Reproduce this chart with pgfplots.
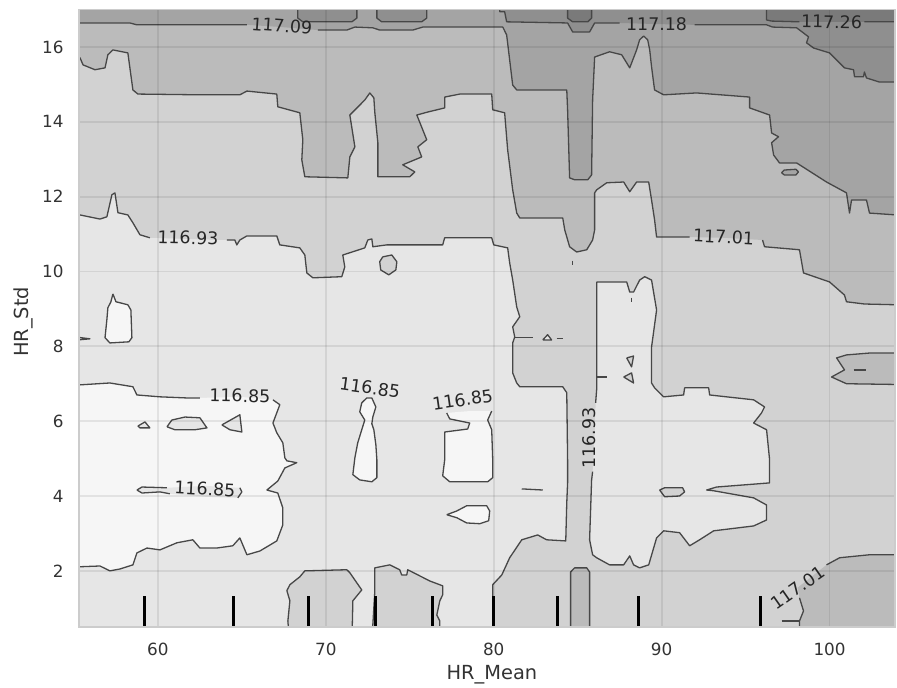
\documentclass[border=0pt]{standalone}
\usepackage{pgfplots}
\pgfplotsset{compat=1.18}
\usepackage{pgfplotstable}
\usepackage{fontspec}
\setmainfont{DejaVu Sans}
\definecolor{cB0}{HTML}{F6F6F6}
\definecolor{cB1}{HTML}{E6E6E6}
\definecolor{cB2}{HTML}{D2D2D2}
\definecolor{cB3}{HTML}{BBBBBB}
\definecolor{cB4}{HTML}{A4A4A4}
\definecolor{cB5}{HTML}{8F8F8F}
\definecolor{cB6}{HTML}{7A7A7A}
\pgfplotsset{
  cl/.style={draw=black!72, line width=0.65pt, line join=round},
}
\tikzset{lab/.style={font=\fontsize{8.7}{10}\selectfont, text=black!85, inner sep=0pt}}
% region 116.93-117.01 (outer boundary = 116.93 contour)
\pgfplotstableread{
x y yl
54.00 11.51 11.51
55.36 11.51 11.51
56.55 11.40 11.40
56.96 11.46 11.46
57.26 12.05 12.05
57.44 12.10 12.10
57.62 11.57 11.57
58.21 11.51 11.51
58.51 11.30 11.30
58.93 10.98 10.98
59.52 10.90 10.90
61.79 10.87 nan
64.11 10.84 10.84
64.58 10.84 10.84
64.70 10.71 10.71
64.88 10.84 10.84
65.30 10.95 10.95
67.08 10.95 10.95
67.26 10.71 10.71
68.45 10.63 10.63
68.75 10.44 10.44
68.87 9.96 9.96
69.23 9.83 9.83
70.95 9.86 9.86
71.13 10.12 10.12
71.01 10.44 10.44
71.43 10.50 10.50
72.32 10.63 10.63
72.50 10.84 10.84
72.74 10.87 10.87
72.80 10.66 10.66
73.63 10.71 10.71
76.96 10.71 10.71
77.08 10.90 10.90
79.88 10.90 10.90
80.00 10.71 10.71
80.83 10.63 10.63
80.95 10.23 10.23
81.13 9.77 9.77
81.37 9.05 9.05
81.55 8.79 8.79
81.13 8.52 8.52
81.25 8.25 8.25
81.13 8.09 8.09
81.13 7.29 7.29
81.37 7.02 7.02
81.55 6.92 6.92
84.11 6.92 6.92
84.35 6.76 6.76
84.40 4.97 4.97
84.40 4.35 4.35
84.35 3.82 3.82
84.29 2.80 2.80
83.15 2.83 2.83
82.62 2.96 2.96
81.67 2.83 2.83
80.95 2.35 2.35
80.48 1.89 1.89
79.94 1.63 1.63
79.94 0.00 0.00
105.5 0.00 0.00
105.5 17.6 17.6
54.00 17.6 17.6
}\tBtwo
% region 117.01-117.09 (outer boundary = 117.01 contour)
\pgfplotstableread{
x y yl
54.00 15.71 15.71
55.36 15.71 15.71
55.54 15.52 15.52
56.25 15.39 15.39
56.85 15.44 15.44
57.02 15.79 15.79
57.32 15.92 15.92
58.21 15.84 15.84
58.51 14.85 14.85
58.81 14.74 14.74
62.50 14.72 14.72
64.88 14.72 14.72
65.30 14.82 14.82
67.08 14.74 14.74
67.14 14.40 14.40
68.45 14.24 14.24
68.63 13.52 13.52
68.57 12.98 12.98
68.75 12.53 12.53
71.31 12.50 12.50
71.43 13.06 13.06
71.73 13.33 13.33
71.43 14.18 14.18
72.32 14.58 14.58
72.62 14.77 14.77
72.86 14.64 14.64
72.92 14.24 14.24
73.10 13.44 13.44
73.10 12.53 12.53
75.00 12.53 12.53
75.30 12.66 12.66
74.58 12.85 12.85
75.71 13.06 13.06
75.48 13.33 13.33
76.01 13.52 13.52
75.42 14.18 14.18
76.07 14.26 14.26
77.08 14.37 14.37
77.08 14.66 14.66
77.98 14.74 14.74
79.88 14.74 14.74
79.94 14.32 14.32
80.65 14.24 14.24
80.83 13.25 13.25
81.13 12.18 12.18
81.37 11.56 11.56
81.55 11.43 11.43
84.11 11.43 11.43
84.23 11.11 11.11
84.52 10.66 10.66
84.94 10.52 10.52
85.54 10.58 10.58
85.89 10.84 10.84
86.01 11.11 11.11
86.01 12.10 12.10
86.13 12.18 12.18
86.73 12.37 12.37
87.74 12.39 12.39
88.10 12.13 12.13
88.51 12.39 12.39
89.23 12.39 12.39
89.40 11.91 11.91
89.58 11.38 11.38
89.70 10.92 10.92
91.67 10.92 10.92
93.69 10.90 nan
96.01 10.84 10.84
96.13 10.66 10.66
98.21 10.58 10.58
98.45 9.96 9.96
100.00 9.72 9.72
100.89 9.37 9.37
101.01 9.19 9.19
102.08 9.13 9.13
103.99 9.11 9.11
105.5 9.11 9.11
105.5 17.6 17.6
54.00 17.6 17.6
}\tBthree
% region 117.09-117.18 (outer boundary = 117.09 contour)
\pgfplotstableread{
x y yl
54.00 16.64 16.64
55.36 16.64 16.64
58.33 16.64 16.64
58.75 16.59 16.59
65.30 16.59 16.59
67.38 16.53 nan
69.52 16.45 16.45
71.25 16.45 16.45
71.73 16.53 16.53
72.80 16.51 16.51
73.21 16.45 16.45
75.18 16.45 16.45
75.77 16.53 16.53
80.54 16.53 16.53
80.77 16.32 16.32
80.95 15.65 15.65
81.13 14.98 14.98
81.37 14.85 14.85
84.35 14.85 14.85
84.40 14.32 14.32
84.52 12.50 12.50
84.82 12.45 12.45
85.60 12.45 12.45
85.83 12.58 12.58
85.89 14.58 14.58
86.01 15.73 15.73
86.90 15.87 15.87
87.62 15.79 15.79
88.10 15.44 15.44
88.51 15.92 15.92
88.69 16.19 16.19
88.93 16.29 16.29
89.17 16.19 16.19
89.29 15.92 15.92
89.40 15.47 15.47
89.58 14.85 14.85
90.12 14.72 14.72
92.08 14.77 14.77
95.24 14.66 14.66
95.24 14.37 14.37
96.43 14.18 14.18
96.55 13.70 13.70
96.96 13.60 13.60
96.55 13.44 13.44
96.67 13.11 13.11
97.02 12.90 12.90
98.04 12.90 12.90
99.82 12.39 12.39
101.01 12.10 12.10
101.19 11.56 11.56
101.31 11.91 11.91
102.20 11.91 11.91
102.38 11.56 11.56
103.99 11.51 11.51
105.5 11.51 11.51
105.5 17.6 17.6
54.00 17.6 17.6
}\tBfour
% region 117.18-117.26 (outer boundary = 117.18 contour)
\pgfplotstableread{
x y yl
80.36 17.60 17.60
80.36 16.94 16.94
80.65 16.94 16.94
80.77 16.67 16.67
84.40 16.64 16.64
84.70 16.40 16.40
85.71 16.40 16.40
86.01 16.64 16.64
87.50 16.64 16.64
89.70 16.61 nan
91.96 16.59 16.59
96.25 16.59 16.59
96.61 16.53 16.53
98.04 16.51 16.51
98.75 16.27 16.27
98.63 16.11 16.11
99.05 15.97 15.97
100.00 15.84 15.84
100.42 15.65 15.65
100.89 15.44 15.44
101.43 15.39 15.39
101.49 15.20 15.20
102.02 15.20 15.20
102.08 15.33 15.33
102.20 15.17 15.17
102.98 15.06 15.06
103.99 15.06 15.06
105.5 15.06 15.06
105.5 17.60 17.60
}\tBfive
% region above 117.26 (outer boundary = 117.26 contour)
\pgfplotstableread{
x y yl
96.25 17.60 17.60
96.25 16.72 16.72
96.55 16.69 16.69
98.21 16.67 16.67
100.12 16.67 nan
102.08 16.67 16.67
103.99 16.67 16.67
105.5 16.67 16.67
105.5 17.60 17.60
}\tBsix
% light cross (116.85-116.93) inside the 116.93-117.01 region
\pgfplotstableread{
x y yl
86.13 9.72 9.72
87.92 9.72 9.72
88.10 9.45 9.45
88.33 9.45 9.45
88.69 9.77 9.77
88.99 9.86 9.86
89.40 9.77 9.77
89.70 8.97 8.97
89.40 7.98 7.98
89.40 7.02 7.02
89.58 6.89 6.89
90.12 6.65 6.65
91.31 6.70 6.70
91.37 6.89 6.89
92.80 6.89 6.89
92.86 6.70 6.70
95.48 6.57 6.57
96.13 6.38 6.38
95.95 6.22 6.22
95.48 5.95 5.95
96.25 5.77 5.77
96.43 4.97 4.97
96.43 4.35 4.35
93.27 4.24 4.24
92.68 4.16 4.16
93.10 4.14 4.14
95.48 3.95 3.95
96.25 3.76 3.76
96.25 3.36 3.36
95.48 3.20 3.20
93.10 3.07 3.07
92.26 2.83 2.83
91.67 2.67 2.67
91.07 3.02 3.02
90.12 3.07 3.07
89.70 2.88 2.88
89.23 2.16 2.16
88.69 2.08 2.08
88.33 2.16 2.16
88.10 2.40 2.40
87.74 2.16 2.16
86.90 2.16 2.16
86.13 2.35 2.35
85.89 2.43 2.43
85.71 2.83 2.83
85.83 4.43 4.43
85.89 4.65 4.65
86.01 5.55 nan
86.07 6.49 6.49
86.13 6.84 6.84
86.13 9.72 9.72
}\tCross
% bottom-right 117.01-117.09 corner
\pgfplotstableread{
x y yl
98.21 0.00 0.00
98.21 0.66 0.66
98.45 0.93 0.93
98.21 1.28 1.28
98.10 1.55 nan
99.82 2.16 2.16
100.60 2.35 2.35
102.38 2.43 2.43
105.5 2.43 2.43
105.5 0.00 0.00
}\tBRcorner
% white region (<116.85), left
\pgfplotstableread{
x y yl
54.00 6.97 6.97
55.36 6.97 6.97
57.14 7.02 7.02
58.51 6.92 6.92
58.75 6.70 6.70
60.12 6.65 6.65
61.73 6.62 6.62
62.50 6.62 6.62
64.88 6.65 nan
66.85 6.57 6.57
67.26 6.44 6.44
66.85 5.95 5.95
67.08 5.69 5.69
67.44 5.42 5.42
67.56 5.02 5.02
67.68 4.94 4.94
68.27 4.89 4.89
67.56 4.75 4.75
67.14 4.40 4.40
66.49 4.16 4.16
67.14 4.08 4.08
67.44 3.68 3.68
67.44 3.23 3.23
67.08 2.80 2.80
66.07 2.53 2.53
65.30 2.43 2.43
64.88 2.88 2.88
64.46 2.67 2.67
63.51 2.61 2.61
62.50 2.61 2.61
62.08 2.83 2.83
61.13 2.75 2.75
60.12 2.56 2.56
59.35 2.61 2.61
58.75 2.48 2.48
58.51 2.16 2.16
57.74 2.05 2.05
57.14 2.00 2.00
56.55 2.13 2.13
55.36 2.11 2.11
54.00 2.11 2.11
}\tWone
% thin light sliver inside the white region, with label
\pgfplotstableread{
x y yl
58.75 4.16 4.16
59.05 4.24 4.24
60.54 4.22 4.22
62.80 4.27 nan
64.88 4.22 4.22
65.00 4.11 4.11
64.76 3.95 3.95
62.80 3.98 nan
60.71 4.06 4.06
60.12 4.11 4.11
59.05 4.08 4.08
58.75 4.16 4.16
}\tSliver
% white island under the right-middle label
\pgfplotstableread{
x y yl
77.20 6.22 6.22
78.57 6.27 nan
79.88 6.27 6.27
79.64 6.03 6.03
79.88 5.77 5.77
79.94 4.97 4.97
79.94 4.49 4.49
79.64 4.38 4.38
77.38 4.38 4.38
76.96 4.54 4.54
77.08 4.97 4.97
77.08 5.71 5.71
78.45 5.79 5.79
78.57 5.95 5.95
77.38 6.06 6.06
77.20 6.22 6.22
}\tWfour

\begin{document}
\begin{tikzpicture}
\useasboundingbox (-39.5pt,-30.5pt) rectangle (409pt,313.5pt);
\begin{axis}[
  at={(0pt,0pt)}, anchor=south west,
  scale only axis, width=408pt, height=308.75pt,
  xmin=55.3, xmax=103.9, ymin=0.5, ymax=17.0,
  xtick={60,70,80,90,100}, ytick={2,4,6,8,10,12,14,16},
  major tick length=0pt,
  axis on top,
  grid=major,
  grid style={draw=black, draw opacity=0.08, line width=0.9pt},
  axis line style={draw=black!20, line width=0.9pt},
  axis background/.style={fill=cB1},
  tick label style={font=\fontsize{8.4}{10}\selectfont, text=black!80},
  /pgf/number format/assume math mode=true,
  xticklabel style={anchor=base, yshift=-14.5pt},
  yticklabel style={anchor=east, inner sep=0pt, xshift=-7.5pt},
  xlabel={HR\_Mean}, ylabel={HR\_Std},
  label style={font=\fontsize{9.7}{11.6}\selectfont, text=black!80},
  xlabel style={at={(axis description cs:0.506,-0.0858)}, anchor=base},
  ylabel style={at={(axis description cs:-0.0613,0.494)}, anchor=base},
]
% ---- stacked filled bands ----
\addplot[fill=cB2, draw=none] table[x=x,y=y] {\tBtwo};
\addplot[cl, unbounded coords=jump] table[x=x,y=yl] {\tBtwo};
\addplot[fill=cB3, draw=none] table[x=x,y=y] {\tBthree};
\addplot[cl, unbounded coords=jump] table[x=x,y=yl] {\tBthree};
\addplot[fill=cB4, draw=none] table[x=x,y=y] {\tBfour};
\addplot[cl, unbounded coords=jump] table[x=x,y=yl] {\tBfour};
\addplot[fill=cB5, cl] coordinates {(68.33,17.6) (68.33,16.77) (68.63,16.67) (71.55,16.67) (71.85,16.77) (71.85,17.6)};
\addplot[fill=cB5, cl] coordinates {(73.04,17.6) (73.04,16.77) (73.33,16.67) (75.71,16.67) (76.01,16.77) (76.01,17.6)};
\addplot[fill=cB5, draw=none] table[x=x,y=y] {\tBfive};
\addplot[cl, unbounded coords=jump] table[x=x,y=yl] {\tBfive};
\addplot[fill=cB6, cl] coordinates {(84.40,17.6) (84.40,16.77) (84.70,16.67) (85.60,16.67) (85.83,16.77) (85.83,17.6)};
\addplot[fill=cB6, draw=none] table[x=x,y=y] {\tBsix};
\addplot[cl, unbounded coords=jump] table[x=x,y=yl] {\tBsix};
\addplot[fill=cB4, cl] coordinates {(97.14,12.64) (97.30,12.71) (98.00,12.73) (98.15,12.66) (98.00,12.58) (97.30,12.58) (97.14,12.64)};
% ---- light cross on the right ----
\addplot[fill=cB1, draw=none] table[x=x,y=y] {\tCross};
\addplot[cl, unbounded coords=jump] table[x=x,y=yl] {\tCross};
\addplot[fill=cB2, cl] coordinates {(89.88,4.16) (90.18,4.22) (91.25,4.22) (91.37,4.11) (91.07,4.00) (90.18,3.98) (89.88,4.16)};
\addplot[fill=cB2, cl] coordinates {(87.92,7.69) (88.33,7.74) (88.21,7.45) (87.92,7.69)};
\addplot[fill=cB2, cl] coordinates {(87.74,7.18) (88.21,7.29) (88.33,7.02) (87.74,7.18)};
\addplot[cl] coordinates {(86.13,7.18) (86.73,7.18)};
\addplot[cl] coordinates {(88.21,9.30) (88.21,9.19)};
% ---- darker islands ----
\addplot[fill=cB3, cl] coordinates {(105.5,7.82) (102.38,7.82) (101.01,7.77) (100.42,7.69) (100.89,7.37) (100.12,7.18) (101.01,7.00) (105.5,6.97)};
\addplot[cl] coordinates {(101.43,7.37) (102.20,7.37)};
\addplot[fill=cB3, draw=none] table[x=x,y=y] {\tBRcorner};
\addplot[cl, unbounded coords=jump] table[x=x,y=yl] {\tBRcorner};
\addplot[cl] coordinates {(97.14,0.66) (98.21,0.66)};
\addplot[fill=cB3, cl] coordinates {(84.58,0) (84.58,1.97) (84.82,2.08) (85.54,2.08) (85.71,1.97) (85.71,0)};
\addplot[fill=cB2, cl] coordinates {(67.86,0) (67.74,0.66) (67.86,1.20) (67.68,1.47) (67.86,1.63) (68.45,1.84) (68.75,2.00) (71.25,2.03) (71.43,1.95) (72.14,1.49) (71.61,1.20) (71.55,0)};
\addplot[fill=cB2, cl] coordinates {(72.80,0) (72.80,0.56) (72.92,1.47) (72.92,2.08) (73.81,2.16) (74.40,2.03) (74.52,1.89) (74.82,1.89) (74.88,2.03) (76.19,1.73) (76.96,1.60) (76.96,1.36) (76.79,1.20) (76.61,0.82) (76.79,0.66) (76.79,0)};
\addplot[fill=cB2, cl] coordinates {(73.39,10.39) (73.93,10.44) (74.23,10.26) (74.17,10.04) (73.75,9.91) (73.27,10.04) (73.21,10.26) (73.39,10.39)};
\addplot[cl] coordinates {(81.25,8.23) (82.32,8.23)};
\addplot[fill=cB1, cl] coordinates {(82.92,8.17) (83.21,8.31) (83.45,8.17) (82.92,8.17)};
\addplot[cl] coordinates {(83.75,8.20) (84.11,8.20)};
\addplot[cl] coordinates {(84.70,10.29) (84.70,10.18)};
\addplot[cl] coordinates {(81.67,4.19) (82.92,4.16)};
% ---- white regions (< 116.85) ----
\addplot[fill=cB0, draw=none] table[x=x,y=y] {\tWone};
\addplot[cl, unbounded coords=jump] table[x=x,y=yl] {\tWone};
\addplot[fill=cB0, cl] coordinates {(57.32,9.40) (57.50,9.19) (58.21,9.11) (58.39,8.97) (58.45,8.23) (58.27,8.12) (57.14,8.09) (56.85,8.23) (56.96,8.71) (57.02,9.03) (57.20,9.19) (57.32,9.40)};
\addplot[fill=cB0, cl] coordinates {(54,8.31) (55.95,8.20) (54,8.12)};
\addplot[fill=cB0, cl] coordinates {(72.14,6.49) (72.44,6.62) (72.74,6.62) (72.98,6.38) (72.80,6.11) (72.74,5.93) (72.86,5.77) (72.98,5.37) (73.04,4.97) (73.04,4.49) (72.74,4.38) (72.02,4.43) (71.61,4.57) (71.73,5.02) (71.90,5.42) (72.14,5.77) (72.32,6.03) (72.02,6.25) (72.14,6.49)};
\addplot[fill=cB0, draw=none] table[x=x,y=y] {\tWfour};
\addplot[cl, unbounded coords=jump] table[x=x,y=yl] {\tWfour};
\addplot[fill=cB0, cl] coordinates {(77.20,3.50) (77.80,3.60) (78.39,3.74) (79.58,3.74) (79.76,3.60) (79.70,3.34) (79.17,3.26) (78.39,3.28) (77.80,3.42) (77.20,3.50)};
% light islands inside the white region
\addplot[fill=cB1, cl] coordinates {(58.81,5.87) (59.23,5.98) (59.52,5.82) (58.93,5.82) (58.81,5.87)};
\addplot[fill=cB1, cl] coordinates {(60.54,5.85) (60.83,6.03) (61.61,6.11) (62.50,6.09) (62.92,5.82) (62.20,5.77) (61.01,5.77) (60.54,5.85)};
\addplot[fill=cB1, cl] coordinates {(63.81,5.90) (64.88,6.17) (65.00,5.71) (64.29,5.77) (63.81,5.90)};
\addplot[fill=cB1, draw=none] table[x=x,y=y] {\tSliver};
\addplot[cl, unbounded coords=jump] table[x=x,y=yl] {\tSliver};
% ---- rug of HR_Mean deciles ----
\addplot[ycomb, black, line width=1.5pt] coordinates {(59.18,1.33) (64.52,1.33) (68.95,1.33) (72.96,1.33) (76.33,1.33) (80.00,1.33) (83.79,1.33) (88.61,1.33) (95.89,1.33)};
% ---- contour labels ----
\node[lab, rotate=-4] at (axis cs:67.38,16.56) {117.09};
\node[lab] at (axis cs:89.70,16.61) {117.18};
\node[lab, rotate=-1] at (axis cs:100.12,16.67) {117.26};
\node[lab, rotate=-1.5] at (axis cs:61.79,10.90) {116.93};
\node[lab, rotate=-3] at (axis cs:93.69,10.92) {117.01};
\node[lab, rotate=-1] at (axis cs:64.88,6.68) {116.85};
\node[lab, rotate=-8] at (axis cs:72.62,6.89) {116.85};
\node[lab, rotate=8] at (axis cs:78.15,6.57) {116.85};
\node[lab, rotate=90] at (axis cs:85.71,5.55) {116.93};
\node[lab, rotate=-3] at (axis cs:62.80,4.19) {116.85};
\node[lab, rotate=35] at (axis cs:98.10,1.55) {117.01};
\end{axis}
\end{tikzpicture}
\end{document}
